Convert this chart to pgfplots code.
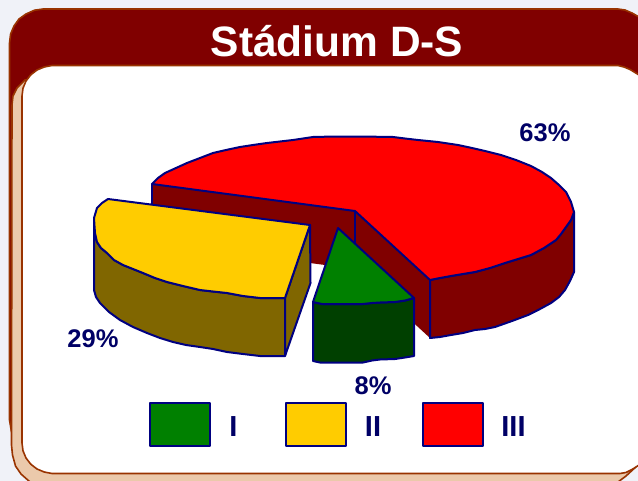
\documentclass[border=0pt]{standalone}
\usepackage{pgfplots}
\pgfplotsset{compat=1.18}
\usepackage{fontspec}
\setmainfont{Liberation Sans}
\definecolor{bgc}{HTML}{F0F2F8}
\definecolor{dkred}{HTML}{800000}
\definecolor{brn}{HTML}{993300}
\definecolor{peach}{HTML}{EBC9AB}
\definecolor{navy}{HTML}{000080}
\definecolor{txt}{HTML}{000066}
\definecolor{yel}{HTML}{FFCC00}
\definecolor{dyel}{HTML}{806600}
\definecolor{grn}{HTML}{008000}
\definecolor{dgrn}{HTML}{004000}
\begin{document}
\begin{tikzpicture}
\begin{axis}[scale only axis,width=638bp,height=481bp,xmin=0,xmax=638,ymin=0,ymax=481,y dir=reverse,hide axis,
  every axis plot/.append style={line join=round,line width=2bp,draw=navy}]
% frame
\addplot[fill=bgc,draw=none] coordinates {(0,0)(638,0)(638,481)(0,481)} --cycle;
\addplot[fill=dkred,draw=brn,line width=1.6bp] coordinates {(9.5,43)(10.6,34)(14,26)(19,19)(26,14)(34.5,10.2)(43,9)(618,9)(625,10)(632,13)(639,17)(639,120)(30,120)(30,432)(11.5,432)(9.5,420)} --cycle;
\addplot[fill=peach,draw=brn,line width=1.6bp] coordinates {(12,105)(13,96)(17,88)(25,80)(60,80)(639,80)(639,464)(626,476)(618,482)(30,482)(21,474)(15.5,466)(12.5,455)(11.5,445)} --cycle;
\addplot[fill=white,draw=brn,line width=1.6bp] coordinates {(22,96)(23,88.2)(26,81)(30.8,74.8)(37,70)(44.2,67)(52,65.5)(618,65.5)(624,67)(630,69.5)(639,75)(639,465)(632,469.5)(626,472.5)(620,473.5)(52,473.5)(44.2,472)(37,469)(30.8,464.2)(26,458)(23,450.8)(22,443)} --cycle;
% back walls of the red slice
\addplot[fill=dkred,draw=none] coordinates {(152,184)(355,211)(355,269)(152,242)} --cycle;
\addplot[fill=dkred,draw=none] coordinates {(355,211)(430,280)(430,338)(355,269)} --cycle;
\addplot[draw=navy] coordinates {(152,242)(152,184)};
\addplot[draw=navy] coordinates {(355,211)(355,269)};
% red outer wall
\addplot[fill=dkred] coordinates {(574,212)(574,272)(570,281)(565,290)(559,297)(551,303)(540,309)(528,315)(512,321)(495,327)(485,329)(475,330)(463,333)(451,335)(440,337)(430,338)(430,280)(440,278)(451,276)(463,274)(475,272)(490,268)(505,263)(518,259)(531,255)(544,248)(556,240)(561,234)(566,227)(571,220)} --cycle;
% red top
\addplot[fill=red] coordinates {(152,184)(158,178)(165,173)(176,168)(187,163)(200,158)(213,153)(226,150)(240,147)(253,145)(267,143)(280,141.5)(293,140)(303,138.5)(313,137)(335,136.5)(360,136.5)(393,137)(405,138.5)(418,140)(438,142)(458,145)(472,148)(485,151)(501,155)(516,160)(531,166)(542,172)(551,178)(559,185)(566,192)(571,202)(574,212)(571,220)(566,227)(561,234)(556,240)(544,248)(531,255)(518,259)(505,263)(490,268)(475,272)(463,274)(451,276)(440,278)(430,280)(355,211)} --cycle;
% yellow slice
\addplot[fill=dyel] coordinates {(94,218)(94,290)(96,297)(100,303)(109,312)(120,320)(133,327)(147,333)(160,338)(173,342)(186,345)(200,347)(213,349)(227,352)(243,354)(260,356)(285,356)(285,298)(260,298)(243,296)(227,293)(213,291.5)(200,290)(183,286)(167,282)(155,278)(143,273)(133,269)(123,265)(114,260)(107,253)(101,248)(97,242)(95,233)(94.5,226)} --cycle;
\addplot[fill=dyel] coordinates {(285,298)(310,225)(310.5,283)(285,356)} --cycle;
\addplot[fill=yel] coordinates {(108,199)(102,203)(97,208)(94,218)(94.5,226)(95,233)(97,242)(101,248)(107,253)(114,260)(123,265)(133,269)(143,273)(155,278)(167,282)(183,286)(200,290)(213,291.5)(227,293)(243,296)(260,298)(285,298)(310,225)} --cycle;
% green slice
\addplot[fill=dgrn] coordinates {(313,302)(313,361)(320,362.5)(340,362.5)(363,362.5)(372,360.5)(380,359.5)(395,359)(405,357.5)(414,356)(414,298)(405,300.5)(395,302)(380,302.5)(372,303)(363,304)(340,304)(322,304)} --cycle;
\addplot[fill=grn] coordinates {(338,228)(414,298)(405,300.5)(395,302)(380,302.5)(372,303)(363,304)(340,304)(322,304)(313,302)} --cycle;
% legend keys
\addplot[fill=grn] coordinates {(150,402.5)(210,402.5)(210,446)(150,446)} --cycle;
\addplot[fill=yel] coordinates {(286,402.5)(346,402.5)(346,446)(286,446)} --cycle;
\addplot[fill=red] coordinates {(422.5,402.5)(482.5,402.5)(482.5,446)(422.5,446)} --cycle;
% text
\node[anchor=base,text=white,font=\fontsize{42.5bp}{50bp}\selectfont\bfseries] at (axis cs:337,57) {Stádium D-S};
\node[anchor=base,text=txt,font=\fontsize{25.5bp}{30bp}\selectfont\bfseries] at (axis cs:545,141) {63\%};
\node[anchor=base,text=txt,font=\fontsize{25.5bp}{30bp}\selectfont\bfseries] at (axis cs:93,347) {29\%};
\node[anchor=base,text=txt,font=\fontsize{25.5bp}{30bp}\selectfont\bfseries] at (axis cs:373,394) {8\%};
\node[anchor=base,text=txt,font=\fontsize{29bp}{30bp}\selectfont\bfseries] at (axis cs:233.5,436) {I};
\node[anchor=base,text=txt,font=\fontsize{29bp}{30bp}\selectfont\bfseries] at (axis cs:373,436) {II};
\node[anchor=base,text=txt,font=\fontsize{29bp}{30bp}\selectfont\bfseries] at (axis cs:513.5,436) {III};
\end{axis}
\end{tikzpicture}
\end{document}
